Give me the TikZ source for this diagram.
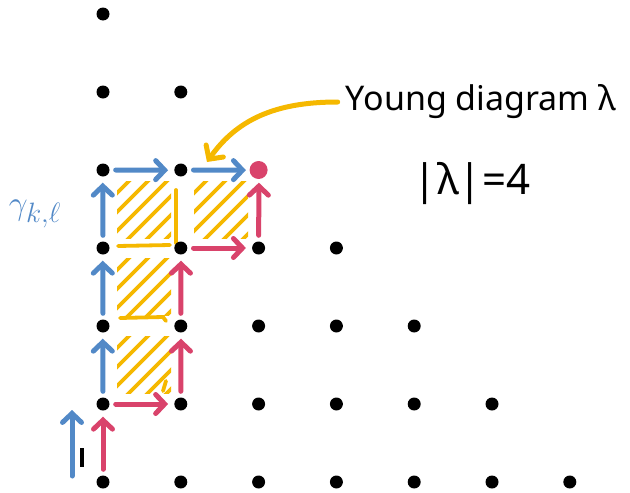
\documentclass[tikz,border=0pt]{standalone}
\usepackage{fontspec}
\setmainfont{Noto Sans}
\usetikzlibrary{arrows.meta}
\definecolor{pblue}{HTML}{5289C7}
\definecolor{pred}{HTML}{D9436B}
\definecolor{pyel}{HTML}{F5B800}
\tikzset{
  dot/.style={circle,fill=black,inner sep=0pt,minimum size=13pt},
  reddot/.style={circle,fill=pred,inner sep=0pt,minimum size=18pt},
  parrow/.style={line width=5pt,line cap=round,-{Straight Barb[length=9pt,width=19pt,line cap=round]},shorten <=6pt,shorten >=6pt},
  barrow/.style={parrow,draw=pblue},
  rarrow/.style={parrow,draw=pred},
  hatch/.style={draw=pyel,line width=3.8pt,line cap=round},
  lbl/.style={font=\fontsize{34}{38}\selectfont,inner sep=0pt}
}
\begin{document}
\begin{tikzpicture}[x=1pt,y=-1pt]
\useasboundingbox (0,0) rectangle (630,493);
% hatched boxes of the Young diagram
\foreach \bx/\by in {103/168,180/168,103/245,103/323}{
  \begin{scope}
    \clip (\bx+14,\by+13) rectangle (\bx+68,\by+70);
    \foreach \s in {0,19,...,152}
      \draw[hatch] (\bx+\s-60,\by+80) -- (\bx+\s+20,\by);
  \end{scope}
}
\draw[hatch] (118,246) -- (170,245);
\draw[hatch] (176,190) -- (176,243);
\draw[hatch] (120,318) -- (163,317) -- (166,321);
\draw[hatch] (166,381) -- (163,391);
% lattice points
\foreach \r in {0,...,6}{
  \pgfmathtruncatemacro{\m}{6-\r}
  \foreach \c in {0,...,\m}{
    \node[dot] (d-\c-\r) at (103+77.8*\c,482-78*\r) {};
  }
}
\node[reddot] at (d-2-4) {};
% blue path
\draw[barrow] ([xshift=-31pt]d-0-0.center) -- ([xshift=-31pt]d-0-1.center);
\draw[barrow] ([xshift=-3pt]d-0-1) -- ([xshift=-3pt]d-0-2);
\draw[barrow] ([xshift=-3pt]d-0-2) -- ([xshift=-3pt]d-0-3);
\draw[barrow] ([xshift=-3pt]d-0-3) -- ([xshift=-3pt]d-0-4);
\draw[barrow] ([yshift=-2pt]d-0-4) -- ([yshift=-2pt]d-1-4);
\draw[barrow] ([yshift=-2pt]d-1-4) -- ([yshift=-2pt,xshift=-6pt]d-2-4);
% red path
\draw[rarrow] (d-0-0) -- (d-0-1);
\draw[rarrow] (d-0-1) -- (d-1-1);
\draw[rarrow] ([xshift=2pt]d-1-1) -- ([xshift=2pt]d-1-2);
\draw[rarrow] ([xshift=2pt]d-1-2) -- ([xshift=2pt]d-1-3);
\draw[rarrow] (d-1-3) -- (d-2-3);
\draw[rarrow] ([xshift=4pt]d-2-3) -- ([xshift=4pt]d-2-4);
% small black stroke
\draw[line width=3.8pt] (82,448) -- (82,467);
% labels
\node[lbl] (yd) at (481,102) {Young diagram λ};
\node[lbl,font=\fontsize{42}{46}\selectfont] (sz) at (472,183) {|λ|=4};
\node[text=pblue,inner sep=0pt] (gam) at (35,214) {\scalebox{1.35}{\Huge$\gamma_{k,\ell}$}};
\coordinate (ytip) at (207,162);
\draw[draw=pyel,line width=5pt,line cap=round,-{Straight Barb[length=10pt,width=21pt,line cap=round]}] ([xshift=-8pt]yd.west) to[out=180,in=55] (ytip);
\end{tikzpicture}
\end{document}
